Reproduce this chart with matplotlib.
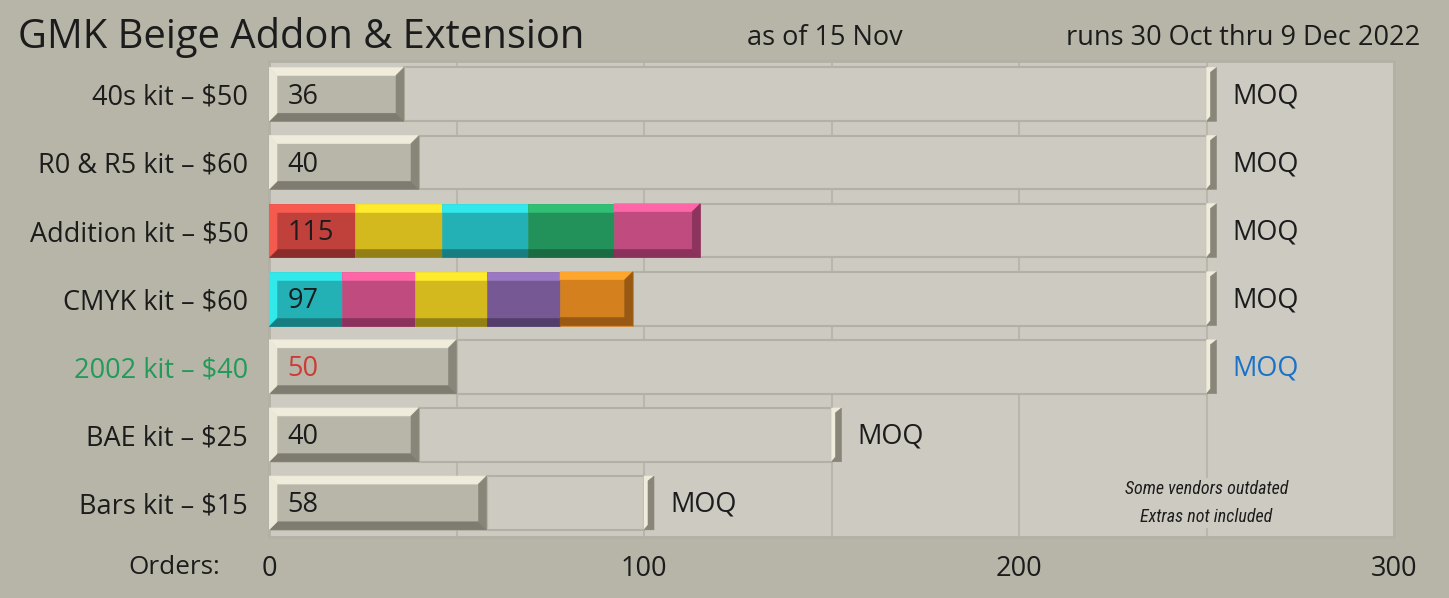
import matplotlib
matplotlib.use("Agg")
import matplotlib.pyplot as plt
from matplotlib.patches import Rectangle, Polygon

# ---------------- data ----------------
categories = ["40s kit – $50", "R0 & R5 kit – $60", "Addition kit – $50", "CMYK kit – $60",
              "2002 kit – $40", "BAE kit – $25", "Bars kit – $15"]
orders = [36, 40, 115, 97, 50, 40, 58]
moq = [250, 250, 250, 250, 250, 150, 100]
addition_segments = [23, 23, 23, 23, 23]
cmyk_segments = [19.4, 19.4, 19.4, 19.4, 19.4]
x_ticks = [0, 100, 200, 300]
x_tick_labels = ["0", "100", "200", "300"]
grid_minor = [50, 150, 250]
title = "GMK Beige Addon & Extension"
subtitle_mid = "as of 15 Nov"
subtitle_right = "runs 30 Oct thru 9 Dec 2022"
note = "Some vendors outdated\nExtras not included"

# ---------------- style ----------------
FONT = ["Open Sans", "DejaVu Sans"]
plt.rcParams["font.family"] = FONT
FIG_BG = "#b7b5a7"
AX_BG = "#cdcac2"
EDGE = "#b3b1a5"
TXT = "#1c1c1c"
FS = 19.5

grey = dict(face="#b8b6a8", top="#f0ecdc", bottom="#7e7b71", left="#ece8d7", right="#888579")
red = dict(face="#c0413b", top="#f85a50", bottom="#8a2c29", left="#f55a4f", right="#8a2c29")
yellow = dict(face="#d3b81e", top="#feeb2e", bottom="#938014", left="#feeb2e", right="#938014")
cyan = dict(face="#23b1b5", top="#31e9ea", bottom="#177d80", left="#31e9ea", right="#177d80")
green = dict(face="#22925a", top="#30bf75", bottom="#1a6a42", left="#30bf75", right="#1a6a42")
pink = dict(face="#bf4b7f", top="#fe66a8", bottom="#8a325c", left="#fe66a8", right="#8c335e")
purple = dict(face="#765894", top="#9a78c2", bottom="#533d6a", left="#9a78c2", right="#533d6a")
orange = dict(face="#d5801e", top="#fea52d", bottom="#975914", left="#fea52d", right="#975914")
addition_colors = [red, yellow, cyan, green, pink]
cmyk_colors = [cyan, pink, yellow, purple, orange]

W, H = 1449, 598
fig = plt.figure(figsize=(W / 100, H / 100), dpi=100, facecolor=FIG_BG)
ax = fig.add_axes([269 / W, 61 / H, 1125 / W, 476 / H], facecolor=AX_BG)
ax.set_xlim(0, 300)
ax.set_ylim(6.5, -0.49)

bar_h = 0.79
# bevel sizes in data units (derived from axis scale)
px_x = 300 / 1125.0
px_y = 6.99 / 476.0
bh = 8 * px_x
bv = 8 * px_y


def bevel_block(y, x0, x1, c, draw_left=True, draw_right=True, z=3):
    t = y - bar_h / 2
    b = y + bar_h / 2
    kw = dict(lw=0.4, zorder=z)
    ax.add_patch(Rectangle((x0, t), x1 - x0, bar_h, fc=c["face"], ec=c["face"], **kw))
    lx = x0 + bh if draw_left else x0
    rx = x1 - bh if draw_right else x1
    ax.add_patch(Polygon([(x0, t), (x1, t), (rx, t + bv), (lx, t + bv)], closed=True,
                         fc=c["top"], ec=c["top"], **kw))
    ax.add_patch(Polygon([(x0, b), (x1, b), (rx, b - bv), (lx, b - bv)], closed=True,
                         fc=c["bottom"], ec=c["bottom"], **kw))
    if draw_left:
        ax.add_patch(Polygon([(x0, t), (x0 + bh, t + bv), (x0 + bh, b - bv), (x0, b)], closed=True,
                             fc=c["left"], ec=c["left"], **kw))
    if draw_right:
        ax.add_patch(Polygon([(x1, t), (x1 - bh, t + bv), (x1 - bh, b - bv), (x1, b)], closed=True,
                             fc=c["right"], ec=c["right"], **kw))


def moq_cap(y, m):
    t = y - bar_h / 2
    b = y + bar_h / 2
    w = 10 * px_x
    mid = m + 4 * px_x
    light = [(m, t), (m + w, t), (mid, t + 0.6 * bv), (mid, b - 0.6 * bv), (m, b)]
    dark = [(m + w, t), (m + w, b), (m, b), (mid, b - 0.6 * bv), (mid, t + 0.6 * bv)]
    ax.add_patch(Polygon(light, closed=True, fc=grey["top"], ec=grey["top"], lw=0.4, zorder=4))
    ax.add_patch(Polygon(dark, closed=True, fc=grey["right"], ec=grey["right"], lw=0.4, zorder=4))


ys = list(range(len(categories)))

# remaining-to-MOQ tracks
ax.barh(ys, [m - o for m, o in zip(moq, orders)], left=orders, height=bar_h,
        color=AX_BG, edgecolor=EDGE, linewidth=1.5, zorder=2)

for i, (o, m) in enumerate(zip(orders, moq)):
    if categories[i].startswith("Addition"):
        segs, cols = addition_segments, addition_colors
    elif categories[i].startswith("CMYK"):
        segs, cols = cmyk_segments, cmyk_colors
    else:
        segs, cols = [o], [grey]
    start = 0
    n = len(segs)
    for k, (s, c) in enumerate(zip(segs, cols)):
        bevel_block(i, start, start + s, c, draw_left=(k == 0), draw_right=(k == n - 1))
        start += s
    moq_cap(i, m)
    vcol = "#cc3b35" if categories[i].startswith("2002") else TXT
    mcol = "#1a73c8" if categories[i].startswith("2002") else TXT
    ax.annotate(str(o), (0, i), xytext=(13.5, -1.6), textcoords="offset points",
                ha="left", va="center", fontsize=FS, color=vcol, zorder=6)
    ax.annotate("MOQ", (m, i), xytext=(18.8, -1.4), textcoords="offset points",
                ha="left", va="center", fontsize=FS, color=mcol, zorder=6)

# grid
ax.set_xticks(x_ticks)
ax.set_xticklabels(x_tick_labels)
ax.set_xticks(grid_minor, minor=True)
ax.grid(True, axis="x", which="both", color="#b9b7ac", linewidth=1.5, zorder=0)
ax.set_axisbelow(True)
ax.tick_params(axis="x", which="both", length=0, pad=13, labelsize=FS, labelcolor=TXT)

ax.set_yticks(ys)
ax.set_yticklabels(categories)
ax.tick_params(axis="y", length=0, pad=15, labelsize=FS, labelcolor=TXT)
for lab in ax.get_yticklabels():
    if lab.get_text().startswith("2002"):
        lab.set_color("#229a5a")

for sp in ax.spines.values():
    sp.set_color(EDGE)
    sp.set_linewidth(2)

ax.text(250, 6.0, note, ha="center", va="center", fontsize=13, style="italic",
        family=["Roboto Condensed", "Liberation Sans Narrow", "Open Sans Condensed", "Roboto", "DejaVu Sans"],
        stretch="condensed", color=TXT, linespacing=1.68, zorder=5,
        bbox=dict(boxstyle="square,pad=0.1", fc=AX_BG, ec="none"))

fig.text(220 / W, 1 - 567 / H, "Orders:", ha="right", va="center", fontsize=18.8, color=TXT)
fig.text(18 / W, 1 - 38 / H, title, ha="left", va="center", fontsize=28.7, color=TXT)
fig.text(825 / W, 1 - 38 / H, subtitle_mid, ha="center", va="center", fontsize=FS, color=TXT)
fig.text(1420 / W, 1 - 38 / H, subtitle_right, ha="right", va="center", fontsize=FS, color=TXT)

fig.savefig("out.png", dpi=100, facecolor=FIG_BG)
